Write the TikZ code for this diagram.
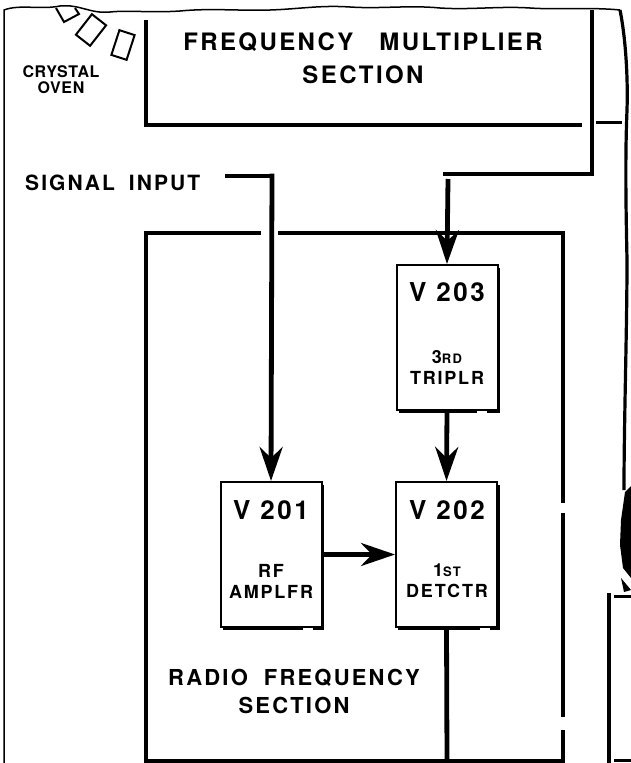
\documentclass[tikz,border=0pt]{standalone}
\usepackage{fontspec}
\newfontfamily\lett[LetterSpace=10]{TeX Gyre Heros}
\newfontfamily\lettn[LetterSpace=4]{TeX Gyre Heros}
\usetikzlibrary{arrows.meta}
\begin{document}
\begin{tikzpicture}[x=1pt,y=-1pt,
  lbl/.style={font=\lett\bfseries\fontsize{#1}{#1}\selectfont, inner sep=0pt, align=center, text=black},
  tube/.style={draw=black, line width=2pt, minimum width=101pt, minimum height=145pt, inner sep=0pt},
  heavy/.style={line width=3.6pt, line cap=butt},
  wire/.style={line width=4.8pt, line cap=butt},
  sect/.style={line width=4pt},
  edge/.style={line width=1.5pt},
  arr/.style={wire, -{Stealth[length=34pt,width=23pt,inset=11pt]}},
  oven/.style={line width=2pt, draw=black, fill=white}
]
\useasboundingbox (0,0) rectangle (631,763);
% torn paper edges
\draw[edge] (4,763) -- (4,10) .. controls (20,4) and (40,10) .. (60,6)
  .. controls (80,4) and (90,14) .. (110,12) .. controls (130,10) and (150,13) .. (180,11)
  .. controls (210,8) and (240,11) .. (270,10) .. controls (300,9) and (320,5) .. (350,7)
  .. controls (380,9) and (410,5) .. (440,8) .. controls (470,10) and (500,6) .. (530,8)
  .. controls (560,10) and (590,7) .. (620,10);
\draw[line width=3.2pt] (620,10) .. controls (626,40) and (628,80) .. (627,110)
  .. controls (625,160) and (626,210) .. (627,260) .. controls (627,330) and (624,420) .. (624,490);
\fill (631,486) -- (625,492) -- (621,520) -- (620,545) -- (623,568) -- (631,578) -- cycle;
\fill (621,578) -- (631,590) -- (624,592) -- cycle;
% crystal oven
\draw[oven] (56,8) -- (64,22) -- (79,14) -- (75,8);
\draw[oven, rotate around={-38:(91,30)}] (82,17) rectangle (100,43);
\draw[oven, rotate around={-18:(123,45)}] (115,32) rectangle (131,58);
\node[font=\lettn\bfseries\fontsize{16}{16}\selectfont, inner sep=0pt, align=center] (co) at (61,80) {CRYSTAL\\[0pt]OVEN};
% frequency multiplier section
\node[lbl=24] (fm) at (363,58) {FREQUENCY\hspace{26pt}MULTIPLIER\\[9pt]SECTION};
\draw[sect] (146,20) -- (146,125) -- (582,125);
\draw[wire] (592,10) -- (592,174);
\draw[line width=3pt] (596,122) -- (622,122);
\draw[wire] (594.4,174) -- (443,174);
\coordinate (fmout) at (448,179);
% signal input
\node[lbl=21, anchor=west] (si) at (25,183) {SIGNAL\hspace{14pt}INPUT};
\coordinate (sicorner) at (272,176);
% RF section box
\draw[sect] (146,763) -- (146,233) -- (261,233);
\draw[sect] (278,233) -- (563,233) -- (563,503);
\draw[sect] (563,513) -- (563,717);
\draw[sect] (563,730) -- (563,761) -- (144,761);
% tubes
\node[tube] (v203) at (447,337.5) {};
\node[tube] (v201) at (271,554.5) {};
\node[tube] (v202) at (446.5,554.5) {};
\draw[heavy] ([xshift=3pt]v203.south west) -- ([xshift=-22pt]v203.south east);
\draw[heavy] ([xshift=-12pt]v203.south east) -- (v203.south east) -- ([yshift=-58pt]v203.north east);
\draw[heavy] ([yshift=-62pt]v203.north east) -- ([yshift=-4pt]v203.north east);
\draw[heavy] ([xshift=3pt]v201.south west) -- ([xshift=-20pt]v201.south east);
\draw[heavy] ([xshift=-10pt]v201.south east) -- (v201.south east) -- ([yshift=-4pt]v201.north east);
\draw[heavy] ([xshift=3pt]v202.south west) -- ([xshift=-18pt]v202.south east);
\draw[heavy] ([xshift=-8pt]v202.south east) -- (v202.south east) -- ([yshift=-4pt]v202.north east);
\node[lbl=26] (t203) at (447,292) {V 203};
\node[lbl=18] (f203) at (447,367) {3{\fontsize{13}{13}\selectfont RD}\\[3pt]TRIPLR};
\node[lbl=26] (t201) at (271,510) {V 201};
\node[lbl=18] (f201) at (271,581) {RF\\[3pt]AMPLFR};
\node[lbl=26] (t202) at (447,510) {V 202};
\node[lbl=18] (f202) at (447,581) {1{\fontsize{13}{13}\selectfont ST}\\[3pt]DETCTR};
\node[lbl=22] (rfs) at (294,691) {RADIO\hspace{16pt}FREQUENCY\\[6pt]SECTION};
% connectors
\draw[wire] (225,176) -- (sicorner);
\draw[arr] (sicorner) ++(0,-2.4) -- (v201.north);
\draw[arr] (fmout) -- (v203.north);
\draw[arr] (v203.south) -- (v202.north);
\draw[arr] (v201.east) -- (v202.west);
\draw[wire] (v202.south) -- (447,761);
% right lower box
\draw[sect] (609,763) -- (609,593);
\draw[line width=3pt] (614,596) -- (631,596);
\draw[line width=3pt] (614,760) -- (631,760);
\end{tikzpicture}
\end{document}
